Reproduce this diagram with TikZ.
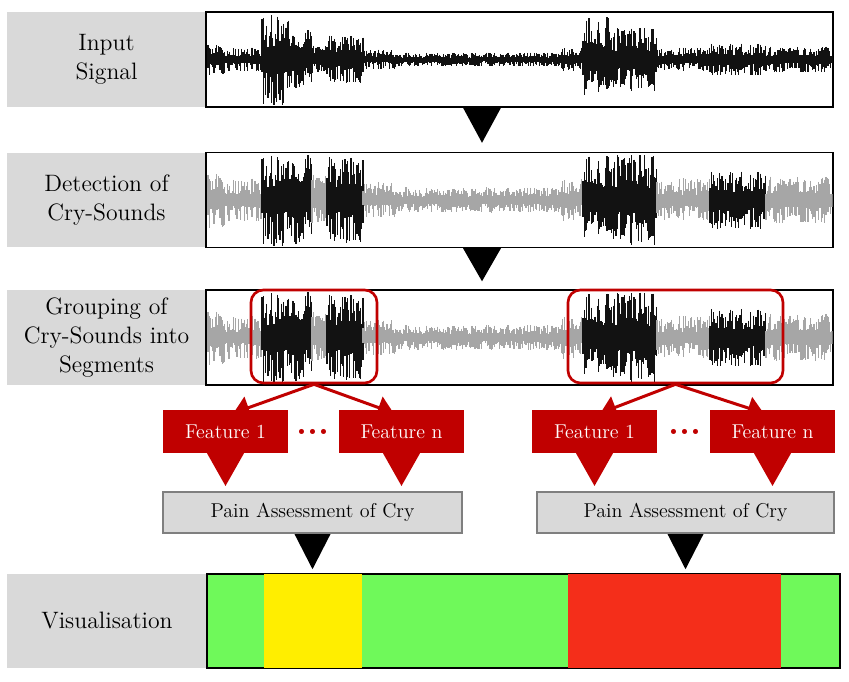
\documentclass[tikz,border=0pt]{standalone}
\usepackage{tikz}
\usetikzlibrary{arrows.meta,positioning,calc}
\definecolor{boxgray}{HTML}{D9D9D9}
\definecolor{featred}{HTML}{C00000}
\definecolor{paingray}{HTML}{7F7F7F}
\definecolor{wavegray}{HTML}{A6A6A6}
\definecolor{wavedark}{HTML}{121212}
\definecolor{visgreen}{HTML}{6FF95A}
\definecolor{visyellow}{HTML}{FFEE00}
\definecolor{visred}{HTML}{F42E1A}
\newcommand{\labfont}{\fontsize{13.5}{16.5}\selectfont}
\newcommand{\featfont}{\fontsize{11.4}{13}\selectfont}
% segments of the recording: start/end/amplitude/cry
\newcommand{\wavesegs}{208/225/16/0, 225/262/12/0, 262/290/46/1, 290/312/30/1, 312/327/14/0, 327/363/24/1, 363/400/10/0, 400/560/7/0, 560/583/12/0, 583/610/44/1, 610/657/32/1, 657/710/12/0, 710/766/16/1, 766/832/13/0}
\newcommand{\cryWave}[3]{% #1 centre y, #2 scale, #3 grey background (1) or all black (0)
  \pgfmathsetseed{17}
  \foreach \xa/\xb/\amp/\cry in \wavesegs {
    \pgfmathsetmacro{\xnext}{\xa+1.2}
    \foreach \x in {\xa,\xnext,...,\xb} {
      \pgfmathsetmacro{\up}{min(46,#2*\amp)*(0.25+0.75*rnd)}
      \pgfmathsetmacro{\dn}{min(46,#2*\amp)*(0.25+0.75*rnd)}
      \pgfmathsetmacro{\isdark}{(1-#3)+#3*\cry}
      \ifdim\isdark pt>0.5pt \def\wc{wavedark}\else\def\wc{wavegray}\fi
      \draw[\wc, line width=0.6pt] (\x,#1-\up) -- (\x,#1+\dn);
    }
  }
}
\newcommand{\flowtri}[3]{% top point, bottom point, half width
  \fill[black] ($(#1)+(-#3,0)$) -- ($(#1)+(#3,0)$) -- (#2) -- cycle;
}

\begin{document}
\begin{tikzpicture}[
  x=0.02cm, y=-0.02cm,
  labelbox/.style={fill=boxgray, minimum width=3.98cm, minimum height=1.9cm, align=center, font=\labfont, inner sep=0pt},
  sigbox/.style={draw=black, line width=0.8pt, minimum width=12.54cm, minimum height=1.9cm, inner sep=0pt},
  groupbox/.style={draw=featred, line width=1.5pt, rounded corners=7pt, minimum height=1.86cm, inner sep=0pt},
  featbox/.style={fill=featred, text=white, minimum width=2.5cm, minimum height=0.86cm, font=\featfont, inner sep=0pt},
  painbox/.style={fill=boxgray, draw=paingray, line width=1.2pt, minimum height=0.82cm, font=\featfont, inner sep=0pt},
  splitarrow/.style={draw=featred, line width=1.7pt, -{Triangle[width=13pt,length=9pt]}},
  dotsnode/.style={text=featred, font=\fontsize{20}{20}\selectfont\bfseries, inner sep=0pt}
]
\useasboundingbox (0,0) rectangle (849,682);

% rows
\node[labelbox] (lab1) at (106.5,59.5) {Input\\Signal};
\node[sigbox] (sig1) at (519.5,59.5) {};
\node[labelbox] (lab2) at (106.5,200) {Detection of\\Cry-Sounds};
\node[sigbox] (sig2) at (519.5,200) {};
\node[labelbox] (lab3) at (106.5,337.5) {Grouping of\\Cry-Sounds into\\Segments};
\node[sigbox] (sig3) at (519.5,337.5) {};

% waveforms
\begin{scope}
  \clip ($(sig1.north west)+(1,1)$) rectangle ($(sig1.south east)+(-1,-1)$);
  \cryWave{59.5}{1}{0}
\end{scope}
\begin{scope}
  \clip ($(sig2.north west)+(1,1)$) rectangle ($(sig2.south east)+(-1,-1)$);
  \cryWave{200}{1.8}{1}
\end{scope}
\begin{scope}
  \clip ($(sig3.north west)+(1,1)$) rectangle ($(sig3.south east)+(-1,-1)$);
  \cryWave{337.5}{1.8}{1}
\end{scope}

% segments
\node[groupbox, minimum width=2.52cm] (grp1) at (314,336.5) {};
\node[groupbox, minimum width=4.3cm] (grp2) at (675.5,336.5) {};

% flow between rows
\flowtri{$(sig1.south)+(-37.5,0)$}{$(sig2.north)+(-37.5,-9)$}{19}
\flowtri{$(sig2.south)+(-37.5,0)$}{$(sig3.north)+(-37.5,-8)$}{19}

% features
\draw[splitarrow] (grp1.south) -- ($(225.5,410)+(8,3)$);
\draw[splitarrow] (grp1.south) -- ($(401.5,410)+(-8,3)$);
\draw[splitarrow] (grp2.south) -- ($(594.5,410)+(6,3)$);
\draw[splitarrow] (grp2.south) -- ($(772.5,410)+(-9,3)$);

\node[featbox] (feat1) at (225.5,431.5) {Feature 1};
\node[featbox] (featn) at (401.5,431.5) {Feature n};
\node[featbox] (feat1r) at (594.5,431.5) {Feature 1};
\node[featbox] (featnr) at (772.5,431.5) {Feature n};
\node[dotsnode] (dots1) at (313,432) {...};
\node[dotsnode] (dots2) at (685,432) {...};

\node[painbox, minimum width=5.98cm] (pain1) at (312.5,512.5) {Pain Assessment of Cry};
\node[painbox, minimum width=5.94cm] (pain2) at (685.5,512.5) {Pain Assessment of Cry};

% callout tails
\foreach \f/\p in {feat1/pain1, featn/pain1, feat1r/pain2, featnr/pain2}
  \fill[featred] ($(\f.south)+(-19,-1)$) -- ($(\f.south)+(19,-1)$) -- ($(\f.south |- \p.north)+(0,-5)$) -- cycle;

% visualisation
\node[labelbox, minimum width=4cm, minimum height=1.88cm] (lab4) at (107,621) {Visualisation};
\node[draw=black, line width=0.9pt, fill=visgreen, minimum width=12.66cm, minimum height=1.88cm, inner sep=0pt] (vis) at (523.5,621) {};
\fill[visyellow] ($(vis.north west)+(58,1)$) rectangle ($(vis.south west)+(156,-1)$);
\fill[visred] ($(vis.north west)+(362,1)$) rectangle ($(vis.south west)+(575,-1)$);

\flowtri{pain1.south}{$(vis.north -| pain1.south)+(0,-4)$}{18}
\flowtri{pain2.south}{$(vis.north -| pain2.south)+(0,-4)$}{18}

\end{tikzpicture}
\end{document}
